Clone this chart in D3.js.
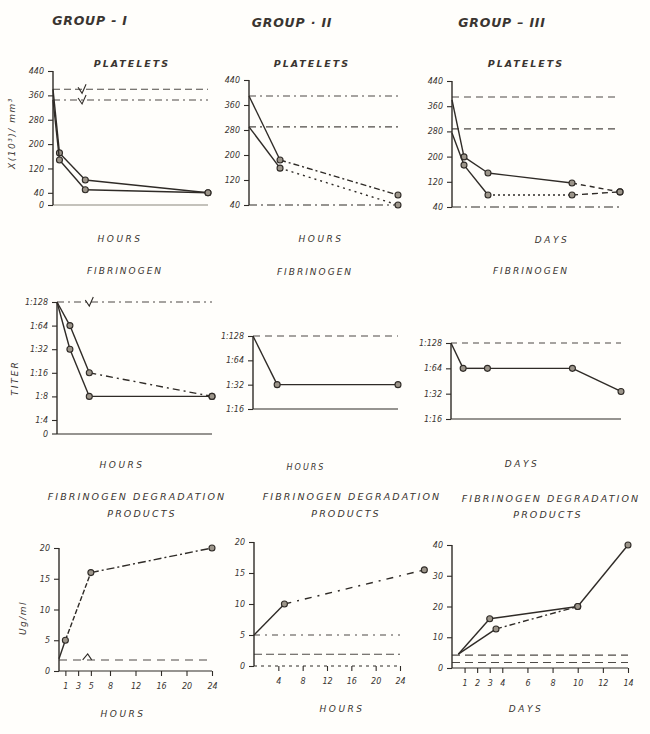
<!DOCTYPE html>
<html><head><meta charset="utf-8">
<script src="https://cdn.jsdelivr.net/npm/d3@7"></script>
<style>body{margin:0;background:#fff}svg{display:block}</style>
</head><body>
<svg id="c" width="650" height="734"></svg>
<script>
// ---------------- DATA ----------------
const groupTitles = ["GROUP - I", "GROUP · II", "GROUP – III"];
const rowTitles = [["PLATELETS"], ["FIBRINOGEN"], ["FIBRINOGEN DEGRADATION", "PRODUCTS"]];
const xUnits = ["HOURS", "HOURS", "DAYS"];
const yLabels = ["X(10³)/ mm³", "TITER", "Ug/ml"];

// tick values
const pltTicksG1 = [0, 40, 120, 200, 280, 360, 440];
const pltTicksG23 = [40, 120, 200, 280, 360, 440];
const titerTicksG1 = [4, 8, 16, 32, 64, 128];
const titerTicksG23 = [16, 32, 64, 128];
const fdpTicks20 = [0, 5, 10, 15, 20];
const fdpTicks40 = [0, 10, 20, 30, 40];
const fdpHourTicksG1 = [1, 3, 5, 8, 12, 16, 20, 24];
const fdpHourTicksG2 = [4, 8, 12, 16, 20, 24];
const fdpDayTicksG3 = [1, 2, 3, 4, 6, 8, 10, 12, 14];

// Platelets (x10^3 / mm^3)
const pltG1Time = [0, 1, 5, 24];
const pltG1A = [380, 171, 82, 40];
const pltG1B = [345, 148, 50, 40];
const pltG1Normal = [380, 345];
const pltG2Time = [0, 5, 24];
const pltG2A = [389, 184, 72];
const pltG2B = [290, 158, 40];
const pltG2Normal = [389, 290];
const pltG3Days = [0, 1, 3, 10, 14];
const pltG3A = [380, 199, 148, 116, 88];
const pltG3B = [275, 173, 78, 78, 88];
const pltG3Normal = [389, 288];

// Fibrinogen (titer denominator, 1:N)
const fibG1Time = [0, 2, 5, 24];
const fibG1A = [128, 64, 16, 8];
const fibG1B = [128, 32, 8, 8];
const fibG1Normal = [128];
const fibG2Time = [0, 4, 24];
const fibG2 = [128, 32, 32];
const fibG2Normal = [128];
const fibG3Days = [0, 1, 3, 10, 14];
const fibG3 = [128, 64, 64, 64, 34];
const fibG3Normal = [128];

// Fibrinogen degradation products (ug/ml)
const fdpG1Time = [0, 1, 5, 24];
const fdpG1 = [2, 5, 16, 20];
const fdpG1Normal = [1.8];
const fdpG2Time = [0, 5, 28];
const fdpG2 = [5, 10, 15.5];
const fdpG2Normal = [5, 1.9];
const fdpG3DaysA = [0.5, 3, 10, 14];
const fdpG3A = [4.5, 16, 20, 40];
const fdpG3DaysB = [0.5, 3.5, 10];
const fdpG3B = [4.5, 12.7, 20];
const fdpG3Normal = [4.2, 1.8];

// break marks on normal lines (time of mark)
const breakG1Plt = 4.5, breakG1Fib = 5, breakG1Fdp = 4.5;

// ---------------- DRAWING ----------------
const svg = d3.select("#c");
svg.append("rect").attr("width", 650).attr("height", 734).attr("fill", "#fffefb");
const ink = "#2f2b27";
const FONT = "DejaVu Sans, sans-serif";

function txt(x, y, s, size, opts = {}) {
  const t = svg.append("text").attr("x", x).attr("y", y).text(s)
    .attr("font-family", FONT).attr("font-size", size)
    .attr("font-style", "italic").attr("fill", opts.fill || "#3a3531")
    .attr("text-anchor", opts.anchor || "middle")
    .attr("letter-spacing", opts.ls || 0)
    .attr("font-weight", opts.weight || "normal");
  if (opts.rotate) t.attr("transform", `rotate(-90 ${x} ${y})`);
  return t;
}

function panel(p) {
  const g = svg.append("g");
  const x = d3.scaleLinear().domain(p.xDomain).range(p.xRange);
  const y = p.y;
  const [X0, X1] = p.xRange;
  // normal lines
  p.refs.forEach((r, i) => {
    g.append("line").attr("x1", X0).attr("x2", X1)
      .attr("y1", y(r)).attr("y2", y(r))
      .attr("stroke", ink).attr("stroke-width", 1.1).attr("stroke-opacity", 0.85)
      .attr("stroke-dasharray", p.refDash[i]);
  });
  // break marks
  (p.breaks || []).forEach(b => {
    const bx = x(b.t), by = y(b.v);
    const d = b.up
      ? `M${bx - 5},${by} L${bx},${by - 6} L${bx + 4},${by}`
      : `M${bx - 4},${by - 2} L${bx},${by + 4} L${bx + 4},${by - 5}`;
    g.append("path").attr("d", d).attr("fill", "none").attr("stroke", ink).attr("stroke-width", 1.1);
  });
  // baseline (x axis)
  g.append("line").attr("x1", X0).attr("x2", X1).attr("y1", p.yBase).attr("y2", p.yBase)
    .attr("stroke", p.baseColor || ink).attr("stroke-width", 1.2)
    .attr("stroke-dasharray", p.baseDash || null);
  // y axis
  const ay = d3.axisLeft(y).tickValues(p.yTicks).tickFormat(p.yFmt).tickSize(5).tickSizeOuter(0);
  const gy = g.append("g").attr("transform", `translate(${X0},0)`).call(ay);
  gy.select(".domain").remove();
  gy.selectAll("line").attr("stroke", ink).attr("stroke-width", 1.1);
  gy.selectAll("text").attr("font-family", FONT).attr("font-size", 8).attr("font-style", "italic")
    .attr("fill", "#3a3531").attr("dx", "-1");
  g.append("line").attr("x1", X0).attr("x2", X0).attr("y1", p.yTop).attr("y2", p.yBase)
    .attr("stroke", ink).attr("stroke-width", 1.4);
  if (p.zeroLabel) {
    g.append("line").attr("x1", X0 - 5).attr("x2", X0).attr("y1", p.yBase).attr("y2", p.yBase)
      .attr("stroke", ink).attr("stroke-width", 1.1);
    g.append("text").attr("x", X0 - 9).attr("y", p.yBase + 3).text("0")
      .attr("font-family", FONT).attr("font-size", 8).attr("font-style", "italic")
      .attr("text-anchor", "end").attr("fill", "#3a3531");
  }
  // x ticks
  if (p.xTicks) {
    const ax = d3.axisBottom(x).tickValues(p.xTicks).tickSize(5).tickSizeOuter(0);
    const gx = g.append("g").attr("transform", `translate(0,${p.yBase})`).call(ax);
    gx.select(".domain").remove();
    gx.selectAll("line").attr("stroke", ink).attr("stroke-width", 1.1);
    gx.selectAll("text").attr("font-family", FONT).attr("font-size", 8).attr("font-style", "italic")
      .attr("fill", "#3a3531").attr("dy", "1.2em");
  }
  // series
  p.series.forEach(s => {
    const pts = s.t.map((t, i) => [x(t), y(s.v[i])]);
    for (let i = 0; i < pts.length - 1; i++) {
      g.append("path").attr("d", d3.line()([pts[i], pts[i + 1]]))
        .attr("fill", "none").attr("stroke", ink).attr("stroke-width", 1.4)
        .attr("stroke-dasharray", s.dash[i] || null);
    }
    pts.slice(1).forEach(pt => {
      g.append("circle").attr("cx", pt[0]).attr("cy", pt[1]).attr("r", 3)
        .attr("fill", "#9c958a").attr("stroke", ink).attr("stroke-width", 1.1);
    });
  });
}

const titerFmt = d => "1:" + d;
const numFmt = d => d;

// Row 1 : platelets
panel({
  xDomain: [0, 24], xRange: [53, 208],
  y: d3.scaleLinear().domain([0, 440]).range([205, 71]), yTop: 71, yBase: 205,
  yTicks: pltTicksG1, yFmt: numFmt, baseColor: "#8a857c",
  refs: pltG1Normal, refDash: ["7,4", "7,4,2,4"],
  breaks: pltG1Normal.map(v => ({ t: breakG1Plt, v })),
  series: [
    { t: pltG1Time, v: pltG1A, dash: [] },
    { t: pltG1Time, v: pltG1B, dash: [] }
  ]
});
panel({
  xDomain: [0, 24], xRange: [249, 398],
  y: d3.scaleLinear().domain([40, 440]).range([205, 80]), yTop: 80, yBase: 205,
  yTicks: pltTicksG23, yFmt: numFmt, baseDash: "8,4,2,4",
  refs: pltG2Normal, refDash: ["7,4,2,4", "7,4,2,4"],
  series: [
    { t: pltG2Time, v: pltG2A, dash: [null, "6,3,2,3"] },
    { t: pltG2Time, v: pltG2B, dash: [null, "2,4"] }
  ]
});
panel({
  xDomain: [0, 14], xRange: [452, 620],
  y: d3.scaleLinear().domain([40, 440]).range([207, 81]), yTop: 81, yBase: 207,
  yTicks: pltTicksG23, yFmt: numFmt, baseDash: "9,4,2,4",
  refs: pltG3Normal, refDash: ["7,5", "7,5"],
  series: [
    { t: pltG3Days, v: pltG3A, dash: [null, null, null, "5,4"] },
    { t: pltG3Days, v: pltG3B, dash: [null, null, "2,3", "6,4"] }
  ]
});

// Row 2 : fibrinogen
panel({
  xDomain: [0, 24], xRange: [57, 212],
  y: d3.scaleLog().base(2).domain([4, 128]).range([420, 302]), yTop: 302, yBase: 434,
  yTicks: titerTicksG1, yFmt: titerFmt, zeroLabel: true,
  refs: fibG1Normal, refDash: ["7,4,2,4"],
  breaks: fibG1Normal.map(v => ({ t: breakG1Fib, v })),
  series: [
    { t: fibG1Time, v: fibG1A, dash: [null, null, "7,4,2,4"] },
    { t: fibG1Time, v: fibG1B, dash: [] }
  ]
});
panel({
  xDomain: [0, 24], xRange: [253, 398],
  y: d3.scaleLog().base(2).domain([16, 128]).range([409, 336]), yTop: 336, yBase: 409,
  yTicks: titerTicksG23, yFmt: titerFmt,
  refs: fibG2Normal, refDash: ["7,5"],
  series: [{ t: fibG2Time, v: fibG2, dash: [] }]
});
panel({
  xDomain: [0, 14], xRange: [451, 621],
  y: d3.scaleLog().base(2).domain([16, 128]).range([419, 343]), yTop: 343, yBase: 419,
  yTicks: titerTicksG23, yFmt: titerFmt,
  refs: fibG3Normal, refDash: ["6,5"],
  series: [{ t: fibG3Days, v: fibG3, dash: [] }]
});

// Row 3 : FDP
panel({
  xDomain: [0, 24], xRange: [59, 212],
  y: d3.scaleLinear().domain([0, 20]).range([671, 548]), yTop: 548, yBase: 671,
  yTicks: fdpTicks20, yFmt: numFmt, xTicks: fdpHourTicksG1,
  refs: fdpG1Normal, refDash: ["8,6"],
  breaks: fdpG1Normal.map(v => ({ t: breakG1Fdp, v, up: true })),
  series: [{ t: fdpG1Time, v: fdpG1, dash: [null, "5,2", "8,3,2,3"] }]
});
panel({
  xDomain: [0, 24], xRange: [254, 400],
  y: d3.scaleLinear().domain([0, 20]).range([666, 542]), yTop: 542, yBase: 666,
  yTicks: fdpTicks20, yFmt: numFmt, xTicks: fdpHourTicksG2, baseDash: "3,4",
  refs: fdpG2Normal, refDash: ["6,5,2,5", "8,4"],
  series: [{ t: fdpG2Time, v: fdpG2, dash: [null, "7,6,2,6"] }]
});
panel({
  xDomain: [0, 14], xRange: [452, 628],
  y: d3.scaleLinear().domain([0, 40]).range([668, 545]), yTop: 545, yBase: 668,
  yTicks: fdpTicks40, yFmt: numFmt, xTicks: fdpDayTicksG3,
  refs: fdpG3Normal, refDash: ["8,5", "8,5"],
  series: [
    { t: fdpG3DaysA, v: fdpG3A, dash: [] },
    { t: fdpG3DaysB, v: fdpG3B, dash: [null, "6,3,2,3"] }
  ]
});

// ---------------- TEXT ----------------
txt(90, 25, groupTitles[0], 12.5, { ls: 0.8, weight: "bold" });
txt(292, 27, groupTitles[1], 12.5, { ls: 0.8, weight: "bold" });
txt(502, 27, groupTitles[2], 12.5, { ls: 0.8, weight: "bold" });

[132, 312, 526].forEach((cx, i) => txt(cx, 67, rowTitles[0][0], 9.5, { ls: 2, weight: "bold" }));
[[125, 274], [315, 275], [531, 274]].forEach(([cx, cy]) => txt(cx, cy, rowTitles[1][0], 9, { ls: 2 }));
[[137, 500, 142, 517], [352, 500, 346, 517], [551, 502, 548, 518]].forEach(([a, b, c, d]) => {
  txt(a, b, rowTitles[2][0], 9.5, { ls: 2.1 });
  txt(c, d, rowTitles[2][1], 9.5, { ls: 2.1 });
});

txt(120, 242, xUnits[0], 9, { ls: 2.5 });
txt(321, 242, xUnits[1], 9, { ls: 2.5 });
txt(552, 243, xUnits[2], 9, { ls: 2.5 });
txt(122, 468, xUnits[0], 9, { ls: 2.5 });
txt(306, 470, xUnits[1], 8, { ls: 2 });
txt(522, 467, xUnits[2], 9, { ls: 2.5 });
txt(123, 717, xUnits[0], 9, { ls: 2.5 });
txt(342, 712, xUnits[1], 9, { ls: 2.5 });
txt(526, 712, xUnits[2], 9, { ls: 2.5 });

txt(15, 133, yLabels[0], 9, { rotate: true, ls: 1.5 });
txt(18, 378, yLabels[1], 9, { rotate: true, ls: 2 });
txt(26, 618, yLabels[2], 9, { rotate: true, ls: 1.5 });
</script>
</body></html>
